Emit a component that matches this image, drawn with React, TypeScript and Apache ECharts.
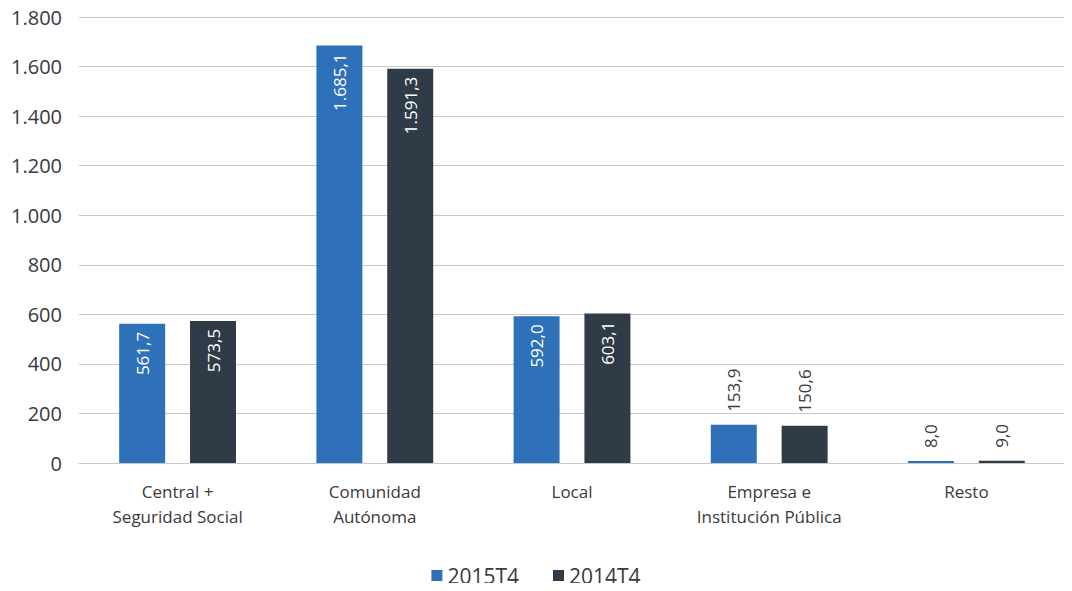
import React, { useEffect, useRef } from "react";
import * as echarts from "echarts";

const categories = [
  "Central +\nSeguridad Social",
  "Comunidad\nAutónoma",
  "Local",
  "Empresa e\nInstitución Pública",
  "Resto",
];
const series2015 = [561.7, 1685.1, 592.0, 153.9, 8.0];
const series2014 = [573.5, 1591.3, 603.1, 150.6, 9.0];
const seriesNames = ["2015T4", "2014T4"];
const yTicks = { min: 0, max: 1800, interval: 200 };

const FONT = "'Open Sans', 'Noto Sans', sans-serif";

const fmtNum = (v: number) => {
  const s = v.toFixed(0);
  return s.replace(/\B(?=(\d{3})+(?!\d))/g, ".");
};
const fmtDec = (v: number) => {
  const [i, d] = v.toFixed(1).split(".");
  return i.replace(/\B(?=(\d{3})+(?!\d))/g, ".") + "," + d;
};

const buildData = (vals: number[]) =>
  vals.map((v) => {
    const inside = v > 300;
    return {
      value: v,
      label: inside
        ? {
            show: true,
            position: "insideTop",
            rotate: 90,
            align: "right",
            verticalAlign: "middle",
            distance: 8,
            color: "#ffffff",
            fontSize: 17,
            fontFamily: FONT,
            formatter: (p: any) => fmtDec(p.value),
          }
        : {
            show: true,
            position: "top",
            rotate: 90,
            align: "left",
            verticalAlign: "middle",
            distance: 13,
            color: "#3a3a3a",
            fontSize: 17,
            fontFamily: FONT,
            formatter: (p: any) => fmtDec(p.value),
          },
    };
  });

export default function App() {
  const ref = useRef<HTMLDivElement>(null);
  useEffect(() => {
    if (!ref.current) return;
    const chart = echarts.init(ref.current, null, { renderer: "svg" });
    chart.setOption({
      animation: false,
      textStyle: { fontFamily: FONT },
      grid: { left: 79, right: 7, top: 17, bottom: 128, containLabel: false },
      legend: {
        data: seriesNames,
        bottom: 0,
        left: "center",
        itemWidth: 11,
        itemHeight: 11,
        itemGap: 34,
        icon: "rect",
        textStyle: { fontSize: 21, color: "#3a3a3a", fontFamily: FONT },
      },
      xAxis: {
        type: "category",
        data: categories,
        axisTick: { show: false },
        axisLine: { show: true, lineStyle: { color: "#c8c8c8", width: 1 } },
        axisLabel: {
          color: "#3a3a3a",
          fontSize: 17,
          lineHeight: 25,
          margin: 16,
          fontFamily: FONT,
          interval: 0,
        },
      },
      yAxis: {
        type: "value",
        min: yTicks.min,
        max: yTicks.max,
        interval: yTicks.interval,
        axisLine: { show: false },
        axisTick: { show: false },
        splitLine: { lineStyle: { color: "#c8c8c8", width: 1 } },
        axisLabel: {
          color: "#3a3a3a",
          fontSize: 20,
          margin: 17,
          fontFamily: FONT,
          formatter: (v: number) => fmtNum(v),
        },
      },
      series: [
        {
          name: seriesNames[0],
          type: "bar",
          data: buildData(series2015),
          barWidth: 46,
          barGap: "54%",
          itemStyle: { color: "#2E71B8" },
        },
        {
          name: seriesNames[1],
          type: "bar",
          data: buildData(series2014),
          barWidth: 46,
          barGap: "54%",
          itemStyle: { color: "#2F3C48" },
        },
      ],
    });
    return () => chart.dispose();
  }, []);
  return <div ref={ref} style={{ width: 1072, height: 591, margin: -8 }} />;
}
